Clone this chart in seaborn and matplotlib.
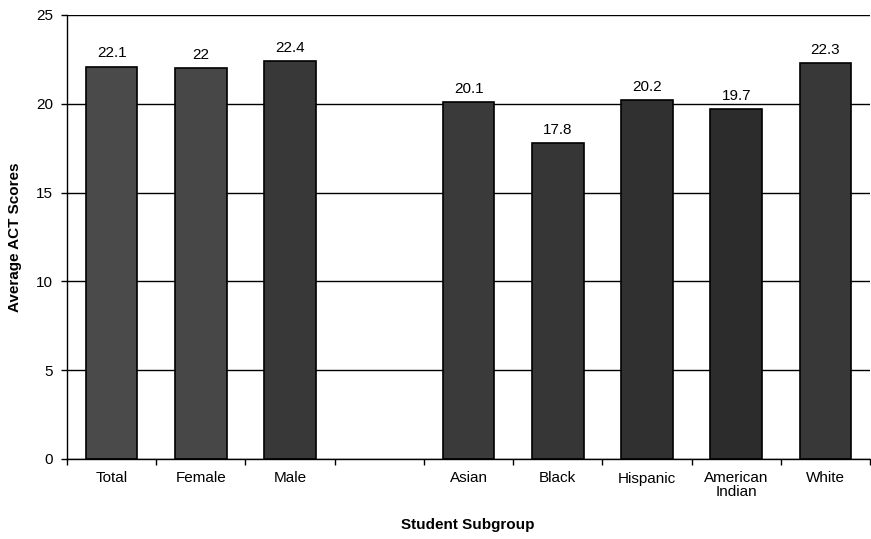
import matplotlib
matplotlib.use("Agg")
import matplotlib.pyplot as plt
import seaborn as sns
import pandas as pd
import numpy as np

categories = ["Total", "Female", "Male", " ", "Asian", "Black", "Hispanic", "American\nIndian", "White"]
scores = [22.1, 22.0, 22.4, np.nan, 20.1, 17.8, 20.2, 19.7, 22.3]
value_labels = ["22.1", "22", "22.4", "", "20.1", "17.8", "20.2", "19.7", "22.3"]
bar_colors = ["#4a4a4a", "#474747", "#383838", "#ffffff", "#3a3a3a", "#363636", "#303030", "#2c2c2c", "#383838"]

sns.set_theme(style="white")
plt.rcParams['font.family'] = ['Liberation Sans', 'DejaVu Sans']

df = pd.DataFrame({"cat": categories, "score": scores})

fig = plt.figure(figsize=(8.71, 5.39), dpi=100)
ax = fig.add_axes([67/871, 1 - 459/539, 1 - 67/871 - 0.001, (459 - 15)/539])

sns.barplot(data=df, x="cat", y="score", hue="cat", palette=bar_colors, legend=False,
            width=0.58, edgecolor="black", linewidth=1.2, ax=ax, order=categories)

ax.set_ylim(0, 25)
ax.set_xlim(-0.5, len(categories) - 0.5)
ax.set_yticks([0, 5, 10, 15, 20, 25])
ax.yaxis.grid(True, color="black", linewidth=1.0)
ax.set_axisbelow(True)

for s in ["top", "right"]:
    ax.spines[s].set_visible(False)
for s in ["left", "bottom"]:
    ax.spines[s].set_visible(True)
    ax.spines[s].set_color("black")
    ax.spines[s].set_linewidth(1.0)

ax.tick_params(axis="y", which="major", left=True, length=4, width=1, color="black",
               labelsize=11, pad=6, labelcolor="black")
ax.set_xticks(np.arange(len(categories)))
ax.set_xticklabels(categories, linespacing=1.0)
ax.set_xticks(np.arange(len(categories) + 1) - 0.5, minor=True)
ax.tick_params(axis="x", which="major", length=0, labelsize=11, pad=9, labelcolor="black")
ax.tick_params(axis="x", which="minor", bottom=True, length=4, width=1, color="black")

for i, (v, lab) in enumerate(zip(scores, value_labels)):
    if lab:
        ax.text(i, v + 0.35, lab, ha="center", va="bottom", fontsize=11, color="black")

ax.set_ylabel("Average ACT Scores", fontsize=11, fontweight="bold", labelpad=10, color="black")
ax.set_xlabel("")
fig.text(468/871, 1 - 525/539, "Student Subgroup", ha="center", va="center",
         fontsize=11, fontweight="bold", color="black")

fig.savefig("out.png", dpi=100, facecolor="white")
